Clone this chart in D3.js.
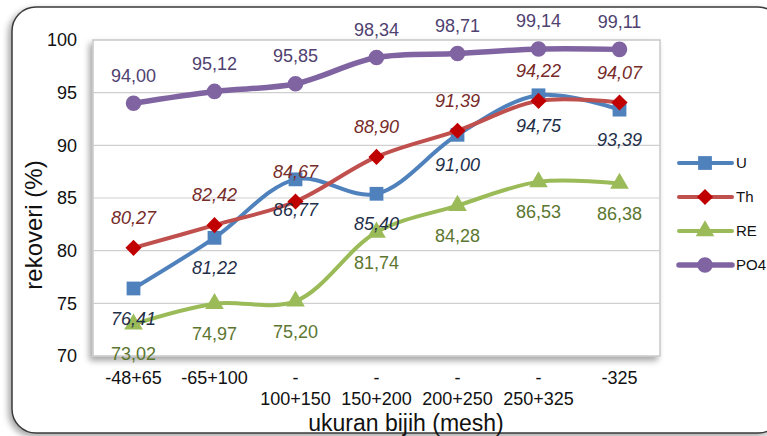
<!DOCTYPE html>
<html>
<head>
<meta charset="utf-8">
<script src="https://cdn.jsdelivr.net/npm/d3@7"></script>
<style>
  html, body { margin: 0; padding: 0; background: #ffffff; }
  svg { display: block; font-family: "Liberation Sans", Arial, Helvetica, sans-serif; }
</style>
</head>
<body>
<svg id="chart" width="767" height="436"></svg>
<script>
// Mesh size fractions (two-line tick labels)
const categories = ["-48+65", "-65+100", "-100+150", "-150+200", "-200+250", "-250+325", "-325"];
const tickLines = [["-48+65"], ["-65+100"], ["-", "100+150"], ["-", "150+200"], ["-", "200+250"], ["-", "250+325"], ["-325"]];

// Recovery (%) for each element
const seriesU   = [76.41, 81.22, 86.77, 85.40, 91.00, 94.75, 93.39];
const seriesTh  = [80.27, 82.42, 84.67, 88.90, 91.39, 94.22, 94.07];
const seriesRE  = [73.02, 74.97, 75.20, 81.74, 84.28, 86.53, 86.38];
const seriesPO4 = [94.00, 95.12, 95.85, 98.34, 98.71, 99.14, 99.11];

const yTicks = [70, 75, 80, 85, 90, 95, 100];

const svg = d3.select("#chart");
const defs = svg.append("defs");

const shadow = defs.append("filter").attr("id", "plotShadow")
  .attr("x", "-10%").attr("y", "-10%").attr("width", "120%").attr("height", "125%");
shadow.append("feDropShadow").attr("dx", -3).attr("dy", 4).attr("stdDeviation", 3)
  .attr("flood-color", "#000").attr("flood-opacity", 0.35);

const frameShadow = defs.append("filter").attr("id", "frameShadow")
  .attr("x", "-10%").attr("y", "-10%").attr("width", "120%").attr("height", "125%");
frameShadow.append("feDropShadow").attr("dx", -3).attr("dy", 3).attr("stdDeviation", 3)
  .attr("flood-color", "#000").attr("flood-opacity", 0.35);

// Outer rounded frame
svg.append("rect")
  .attr("x", 12).attr("y", 7).attr("width", 770).attr("height", 426)
  .attr("rx", 24).attr("ry", 24)
  .attr("fill", "#fff").attr("stroke", "#3a3a3a").attr("stroke-width", 1.5)
  .attr("filter", "url(#frameShadow)");

const plot = { left: 93, right: 660, top: 40, bottom: 356 };

const x = d3.scaleBand().domain(categories).range([plot.left, plot.right]);
const cx = d => x(d) + x.bandwidth() / 2;
const y = d3.scaleLinear().domain([70, 100]).range([plot.bottom, plot.top]);

// Plot area with shadow
svg.append("rect")
  .attr("x", plot.left).attr("y", plot.top)
  .attr("width", plot.right - plot.left).attr("height", plot.bottom - plot.top)
  .attr("fill", "#fff").attr("stroke", "#c8c8c8").attr("stroke-width", 1.5)
  .attr("filter", "url(#plotShadow)");

// Gridlines
svg.append("g").selectAll("line").data(yTicks.slice(1, -1)).join("line")
  .attr("x1", plot.left).attr("x2", plot.right)
  .attr("y1", d => y(d)).attr("y2", d => y(d))
  .attr("stroke", "#cfcfcf").attr("stroke-width", 1.2);

// Y axis labels
const yAxis = d3.axisLeft(y).tickValues(yTicks).tickSize(0).tickPadding(16);
const yG = svg.append("g").attr("transform", `translate(${plot.left},0)`).call(yAxis);
yG.select(".domain").remove();
yG.selectAll("text").attr("font-size", 18).attr("fill", "#111")
  .style("font-family", "'Liberation Sans', Arial, sans-serif");

// X axis labels (multi-line)
const xAxis = d3.axisBottom(x).tickSize(0).tickFormat(() => "");
const xG = svg.append("g").attr("transform", `translate(0,${plot.bottom})`).call(xAxis);
xG.select(".domain").remove();
xG.selectAll(".tick").each(function (d, i) {
  const t = d3.select(this).select("text").attr("y", 0).attr("dy", null);
  t.selectAll("tspan").data(tickLines[i]).join("tspan")
    .attr("x", 0).attr("y", (s, j) => 28 + j * 21).text(s => s);
  t.attr("font-size", 18).attr("fill", "#111")
    .style("font-family", "'Liberation Sans', Arial, sans-serif");
});

// Axis titles
svg.append("text").attr("x", 406).attr("y", 431)
  .attr("text-anchor", "middle").attr("font-size", 23).attr("fill", "#111")
  .text("ukuran bijih (mesh)");
svg.append("text")
  .attr("transform", "translate(42,225) rotate(-90)")
  .attr("text-anchor", "middle").attr("font-size", 24).attr("fill", "#111")
  .text("rekoveri (%)");

const series = [
  { name: "U",   values: seriesU,   line: "#4f81bd", marker: "#4f81bd", shape: "square",   lw: 4,   label: "#1f2f4a", italic: true,  dy: 30 },
  { name: "Th",  values: seriesTh,  line: "#c0504d", marker: "#c00000", shape: "diamond",  lw: 4,   label: "#772c2a", italic: true,  dy: -30 },
  { name: "RE",  values: seriesRE,  line: "#9bbb59", marker: "#9bbb59", shape: "triangle", lw: 4,   label: "#5c7630", italic: false, dy: 30 },
  { name: "PO4", values: seriesPO4, line: "#8064a2", marker: "#8064a2", shape: "circle",   lw: 5.5, label: "#4f4170", italic: false, dy: -28 }
];

// A square turned 45 degrees, as wide as it is tall
const squareDiamond = {
  draw(ctx, size) {
    const r = Math.sqrt(size / 2);
    ctx.moveTo(0, -r); ctx.lineTo(r, 0); ctx.lineTo(0, r); ctx.lineTo(-r, 0); ctx.closePath();
  }
};

const symbolFor = {
  square:   d3.symbol().type(d3.symbolSquare).size(190),
  diamond:  d3.symbol().type(squareDiamond).size(130),
  triangle: d3.symbol().type(d3.symbolTriangle).size(150),
  circle:   d3.symbol().type(d3.symbolCircle).size(190)
};

const line = d3.line().curve(d3.curveCatmullRom.alpha(0.5));

const fmt = v => v.toFixed(2).replace(".", ",");

// Lines and markers, drawn in series order
series.forEach(s => {
  const pts = s.values.map((v, i) => [cx(categories[i]), y(v)]);
  svg.append("path").attr("d", line(pts))
    .attr("fill", "none").attr("stroke", s.line).attr("stroke-width", s.lw)
    .attr("stroke-linecap", "round").attr("stroke-linejoin", "round");
  svg.append("g").selectAll("path").data(s.values).join("path")
    .attr("d", symbolFor[s.shape])
    .attr("transform", (v, i) => `translate(${cx(categories[i])},${y(v)})`)
    .attr("fill", s.marker);
});

// Data labels
series.forEach(s => {
  svg.append("g").selectAll("text").data(s.values).join("text")
    .attr("x", (v, i) => cx(categories[i]))
    .attr("y", v => y(v) + s.dy)
    .attr("dy", "0.35em")
    .attr("text-anchor", "middle")
    .attr("font-size", 18)
    .attr("font-style", s.italic ? "italic" : "normal")
    .attr("fill", s.label)
    .text(fmt);
});

// Legend
const legend = svg.append("g");
series.forEach((s, i) => {
  const ly = 163 + i * 34;
  const g = legend.append("g").attr("transform", `translate(0,${ly})`);
  g.append("line").attr("x1", 679).attr("x2", 732).attr("y1", 0).attr("y2", 0)
    .attr("stroke", s.line).attr("stroke-width", s.lw).attr("stroke-linecap", "round");
  g.append("path").attr("d", symbolFor[s.shape]).attr("transform", "translate(705,0)")
    .attr("fill", s.marker);
  g.append("text").attr("x", 736).attr("y", 0).attr("dy", "0.35em")
    .attr("font-size", 15).attr("fill", "#111").text(s.name);
});
</script>
</body>
</html>
